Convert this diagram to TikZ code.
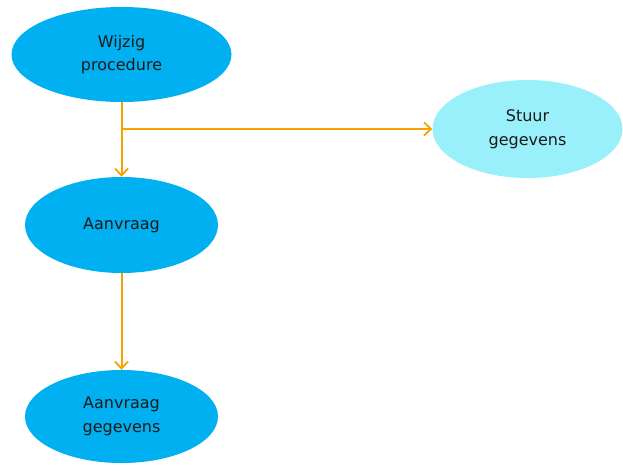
\documentclass[tikz,border=0pt]{standalone}
\usepackage{fontspec}
\setmainfont{DejaVu Sans}
\usetikzlibrary{shapes.geometric,arrows.meta}
\definecolor{mainblue}{HTML}{00B0F0}
\definecolor{lightblue}{HTML}{99F0FA}
\definecolor{flow}{HTML}{F5A300}
\definecolor{txt}{HTML}{1A1A1A}
\tikzset{
  proc/.style={ellipse, fill=mainblue, draw=none, inner sep=0pt, align=center,
    text=txt, font=\fontsize{16}{23.5}\selectfont},
  flowline/.style={draw=flow, line width=2pt, -{Straight Barb[length=7pt,width=13pt,line width=1.8pt]}},
}
\begin{document}
\begin{tikzpicture}[x=1pt,y=-1pt]
\useasboundingbox (0,0) rectangle (623,464);
\node[proc, minimum width=220pt, minimum height=95pt] (w) at (121.5,54.5) {Wijzig\\procedure};
\node[proc, fill=lightblue, minimum width=190pt, minimum height=98pt] (s) at (527.5,129) {Stuur\\gegevens};
\node[proc, minimum width=193pt, minimum height=96pt] (a) at (121.5,225) {Aanvraag};
\node[proc, minimum width=193pt, minimum height=93pt] (g) at (121.5,416.5) {Aanvraag\\gegevens};
\coordinate (br) at (121.5,129);
\draw[flowline] (w.south) -- (a.north);
\draw[flowline] (br) -- (s.west);
\draw[flowline] (a.south) -- (g.north);
\end{tikzpicture}
\end{document}
